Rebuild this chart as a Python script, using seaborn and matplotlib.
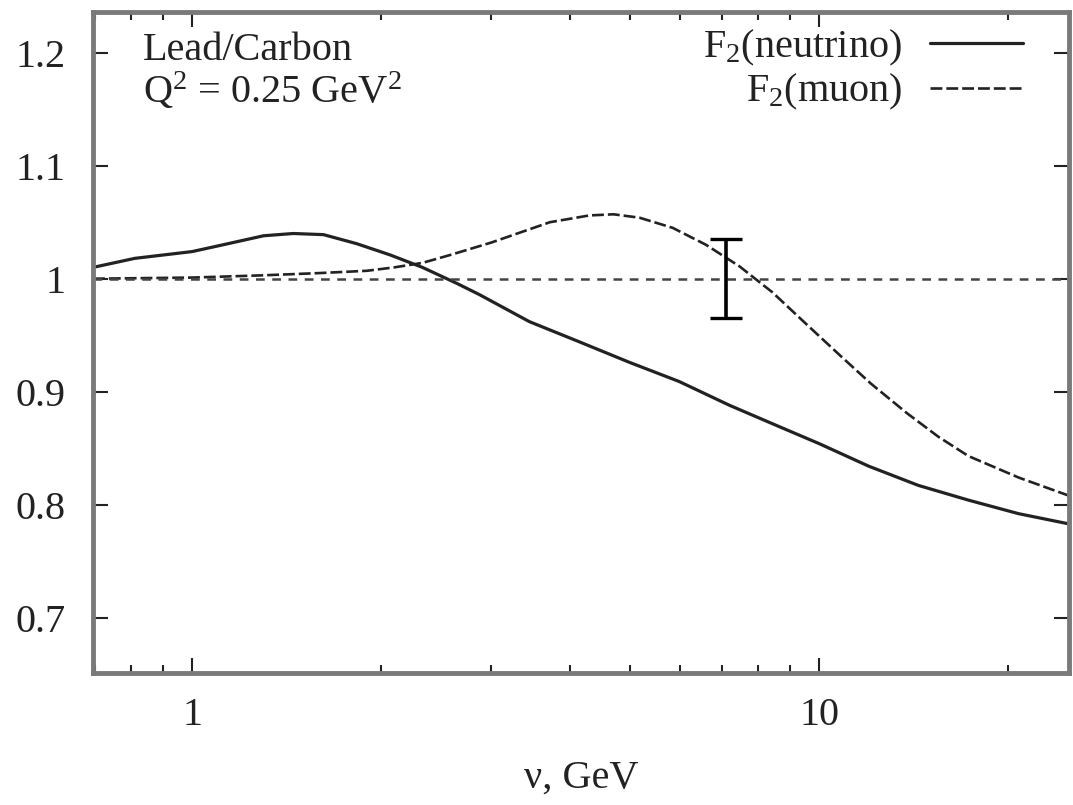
import matplotlib

matplotlib.use("Agg")

import matplotlib.pyplot as plt
import numpy as np
import seaborn as sns
from matplotlib.ticker import FixedLocator, FuncFormatter, LogLocator, NullFormatter


# ratio Lead/Carbon
nu_neutrino = [0.695, 0.81, 1.0, 1.12, 1.3, 1.45, 1.62, 1.83, 2.07, 2.33, 2.64, 2.87,
               3.45, 4.15, 4.98, 5.98, 7.19, 8.64, 10.0, 12.0, 14.4, 17.3, 20.8, 25.0]
f2_neutrino = [1.010, 1.018, 1.024, 1.030, 1.038, 1.040, 1.039, 1.031, 1.021, 1.010, 0.996, 0.986,
               0.962, 0.944, 0.926, 0.909, 0.888, 0.869, 0.854, 0.834, 0.817, 0.804, 0.792, 0.783]

nu_muon = [0.695, 1.0, 1.3, 1.6, 1.9, 2.1, 2.33, 2.58, 3.0, 3.72, 4.3, 4.7, 5.17,
           5.84, 6.6, 7.46, 8.42, 9.53, 10.8, 12.1, 13.8, 15.5, 17.3, 20.8, 25.0]
f2_muon = [1.000, 1.001, 1.003, 1.005, 1.007, 1.010, 1.014, 1.021, 1.032, 1.050, 1.056, 1.057, 1.054,
           1.045, 1.030, 1.011, 0.988, 0.960, 0.932, 0.907, 0.881, 0.860, 0.843, 0.824, 0.808]

err_nu = [7.11]
err_val = [1.0]
err_sigma = [0.035]

ref_level = 1.0
x_major = [1, 10]
y_ticks = [0.7, 0.8, 0.9, 1.0, 1.1, 1.2]
y_tick_labels = ["0.7", "0.8", "0.9", "1", "1.1", "1.2"]

sns.set_style("ticks")
plt.rcParams["font.family"] = ["Liberation Serif", "DejaVu Serif"]
plt.rcParams["mathtext.fontset"] = "custom"
plt.rcParams["mathtext.rm"] = "Liberation Serif"
plt.rcParams["mathtext.it"] = "Liberation Serif:italic"

FS = 29
INK = "#222222"
SPINE = "#7a7a7a"

fig = plt.figure(figsize=(10.73, 8.05), dpi=100)
ax = fig.add_axes([0.0867, 0.164, 0.9093, 0.821])

sns.lineplot(x=nu_neutrino, y=f2_neutrino, ax=ax, color=INK, lw=2.3,
             label=r"F$_2$(neutrino)")
sns.lineplot(x=nu_muon, y=f2_muon, ax=ax, color=INK, lw=1.9,
             linestyle=(0, (4.5, 1.5)), label=r"F$_2$(muon)")
ax.axhline(ref_level, color="#444444", lw=1.8, linestyle=(0, (3.5, 3)))
ax.errorbar(err_nu, err_val, yerr=err_sigma, fmt="none", ecolor="black",
            elinewidth=2.6, capsize=11.5, capthick=2.4)

ax.set_xscale("log")
ax.set_xlim(0.695, 25)
ax.set_ylim(0.651, 1.236)

ax.xaxis.set_major_locator(FixedLocator(x_major))
ax.xaxis.set_major_formatter(FuncFormatter(lambda v, p: f"{v:g}"))
ax.xaxis.set_minor_locator(LogLocator(base=10, subs=np.arange(2, 10)))
ax.xaxis.set_minor_formatter(NullFormatter())
ax.set_yticks(y_ticks)
ax.set_yticklabels(y_tick_labels)

ax.tick_params(axis="both", which="major", direction="in", length=11, width=1.5,
               top=True, right=True, labelsize=FS, colors=INK)
ax.tick_params(axis="x", which="minor", direction="in", length=6, width=1.5,
               top=True, colors=INK)
ax.tick_params(axis="y", which="major", pad=20)
ax.tick_params(axis="x", which="major", pad=17)

for side in ["left", "right", "top", "bottom"]:
    ax.spines[side].set_color(SPINE)
    ax.spines[side].set_linewidth(3.5)

ax.set_xlabel("ν, GeV", fontsize=FS, color=INK, labelpad=19)
ax.set_ylabel("")

ax.text(0.051, 0.927, "Lead/Carbon", transform=ax.transAxes, fontsize=FS,
        color=INK, va="baseline", ha="left")
ax.text(0.051, 0.862, r"Q$^2$ = 0.25 GeV$^2$", transform=ax.transAxes, fontsize=FS,
        color=INK, va="baseline", ha="left")

leg = ax.legend(loc="upper right", bbox_to_anchor=(0.953, 0.976), markerfirst=False,
                frameon=False, fontsize=FS, handlelength=2.3, handletextpad=0.7,
                labelspacing=0.1, borderaxespad=0, borderpad=0)
for t in leg.get_texts():
    t.set_color(INK)
    t.set_ha("right")

fig.savefig("out.png", dpi=100)
plt.close(fig)
